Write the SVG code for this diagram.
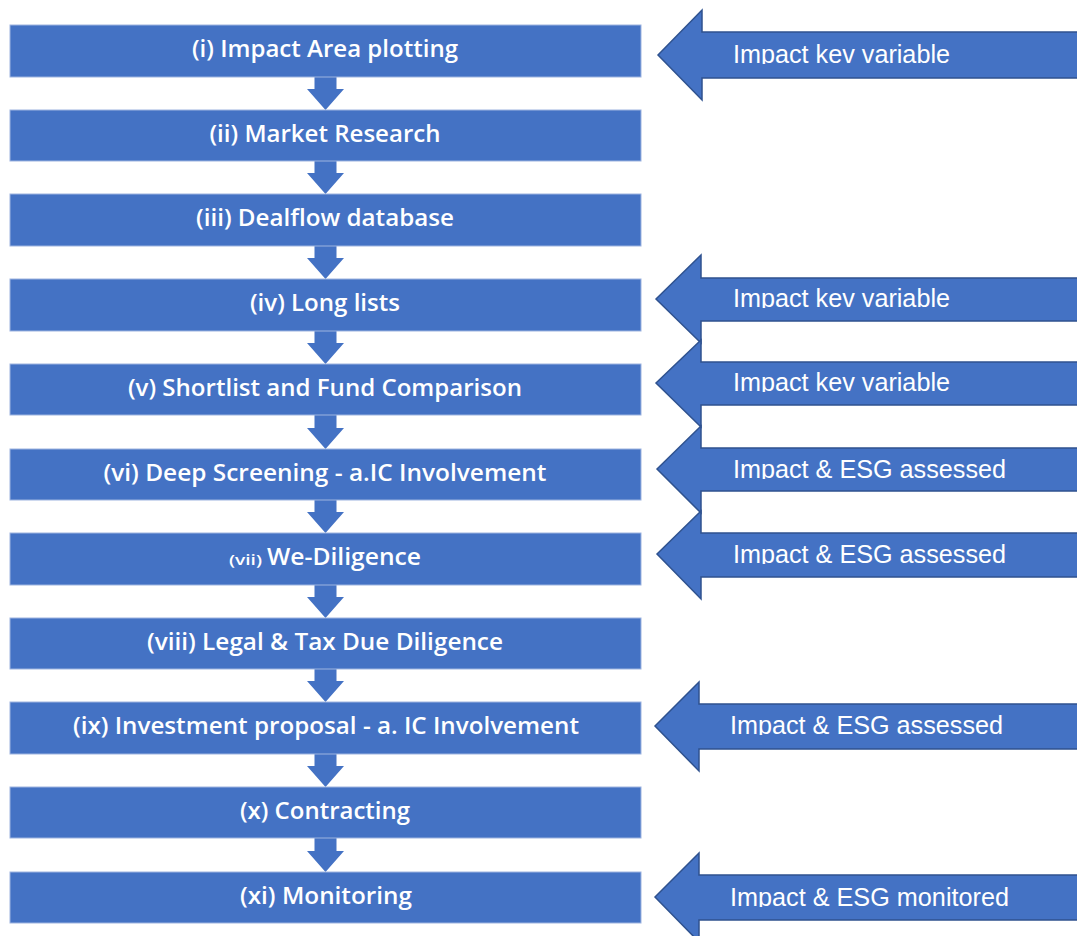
<svg xmlns="http://www.w3.org/2000/svg" width="1077" height="936" viewBox="0 0 1077 936">
<style>
.box{fill:#4472C4;stroke:#9DB4E0;stroke-width:1}
.bt{font-family:"Open Sans","Noto Sans",sans-serif;font-size:23px;font-weight:600;fill:#FFFFFF;text-anchor:middle}
.bts{font-family:"Open Sans","Noto Sans",sans-serif;font-size:15px;font-weight:600;fill:#FFFFFF}
.bl{font-family:"Open Sans","Noto Sans",sans-serif;font-size:23px;font-weight:600;fill:#FFFFFF}
.conn{fill:#4472C4}
.big{fill:#4472C4;stroke:#2F528F;stroke-width:1.5;stroke-linejoin:miter}
.at{font-family:"Liberation Sans",Arial,sans-serif;font-size:25px;fill:#FFFFFF}
</style>
<defs>
<clipPath id="c1"><rect x="700" y="30" width="400" height="34"/></clipPath>
<clipPath id="c2"><rect x="700" y="275" width="400" height="33"/></clipPath>
<clipPath id="c3"><rect x="700" y="360" width="400" height="32"/></clipPath>
<clipPath id="c4"><rect x="700" y="445" width="400" height="34"/></clipPath>
<clipPath id="c5"><rect x="700" y="530" width="400" height="34"/></clipPath>
<clipPath id="c6"><rect x="700" y="700" width="400" height="35"/></clipPath>
<clipPath id="c7"><rect x="700" y="872" width="400" height="35"/></clipPath>
</defs>
<rect width="1077" height="936" fill="#FFFFFF"/>

<g id="connectors">
<path class="conn" d="M314.5 77 H336.5 V89 H344 L325.5 110 L307 89 H314.5 Z"/>
<path class="conn" d="M314.5 161 H336.5 V173 H344 L325.5 194 L307 173 H314.5 Z"/>
<path class="conn" d="M314.5 246 H336.5 V258 H344 L325.5 279 L307 258 H314.5 Z"/>
<path class="conn" d="M314.5 331 H336.5 V343 H344 L325.5 364 L307 343 H314.5 Z"/>
<path class="conn" d="M314.5 415 H336.5 V428 H344 L325.5 449 L307 428 H314.5 Z"/>
<path class="conn" d="M314.5 500 H336.5 V512 H344 L325.5 533 L307 512 H314.5 Z"/>
<path class="conn" d="M314.5 585 H336.5 V597 H344 L325.5 618 L307 597 H314.5 Z"/>
<path class="conn" d="M314.5 669 H336.5 V681 H344 L325.5 702 L307 681 H314.5 Z"/>
<path class="conn" d="M314.5 754 H336.5 V766 H344 L325.5 787 L307 766 H314.5 Z"/>
<path class="conn" d="M314.5 838 H336.5 V851 H344 L325.5 872 L307 851 H314.5 Z"/>
</g>

<g id="n1"><rect class="box" x="10" y="25" width="631" height="52"/><text class="bt" x="325" y="57" textLength="266" lengthAdjust="spacingAndGlyphs">(i) Impact Area plotting</text></g>
<g id="n2"><rect class="box" x="10" y="110" width="631" height="51"/><text class="bt" x="325" y="142" textLength="231" lengthAdjust="spacingAndGlyphs">(ii) Market Research</text></g>
<g id="n3"><rect class="box" x="10" y="194" width="631" height="52"/><text class="bt" x="325" y="226" textLength="258" lengthAdjust="spacingAndGlyphs">(iii) Dealflow database</text></g>
<g id="n4"><rect class="box" x="10" y="279" width="631" height="52"/><text class="bt" x="325" y="311" textLength="150" lengthAdjust="spacingAndGlyphs">(iv) Long lists</text></g>
<g id="n5"><rect class="box" x="10" y="364" width="631" height="51"/><text class="bt" x="325" y="396" textLength="394" lengthAdjust="spacingAndGlyphs">(v) Shortlist and Fund Comparison</text></g>
<g id="n6"><rect class="box" x="10" y="449" width="631" height="51"/><text class="bt" x="325" y="481" textLength="443" lengthAdjust="spacingAndGlyphs">(vi) Deep Screening - a.IC Involvement</text></g>
<g id="n7"><rect class="box" x="10" y="533" width="631" height="52"/><text class="bts" x="229" y="565" textLength="33" lengthAdjust="spacingAndGlyphs">(vii)</text><text class="bl" x="267" y="565" textLength="154" lengthAdjust="spacingAndGlyphs">We-Diligence</text></g>
<g id="n8"><rect class="box" x="10" y="618" width="631" height="51"/><text class="bt" x="325" y="650" textLength="356" lengthAdjust="spacingAndGlyphs">(viii) Legal &amp; Tax Due Diligence</text></g>
<g id="n9"><rect class="box" x="10" y="702" width="631" height="52"/><text class="bt" x="326" y="734" textLength="506" lengthAdjust="spacingAndGlyphs">(ix) Investment proposal - a. IC Involvement</text></g>
<g id="n10"><rect class="box" x="10" y="787" width="631" height="51"/><text class="bt" x="325" y="819" textLength="170" lengthAdjust="spacingAndGlyphs">(x) Contracting</text></g>
<g id="n11"><rect class="box" x="10" y="872" width="631" height="51"/><text class="bt" x="326" y="904" textLength="172" lengthAdjust="spacingAndGlyphs">(xi) Monitoring</text></g>

<g id="a1"><path class="big" d="M658 55 L702 10 V32 H1080 V78 H702 V100 Z"/><text class="at" x="733" y="63" clip-path="url(#c1)" textLength="217" lengthAdjust="spacingAndGlyphs">Impact kev variable</text></g>
<g id="a2"><path class="big" d="M656 299 L701 255 V278 H1080 V321 H701 V343 Z"/><text class="at" x="733" y="307" clip-path="url(#c2)" textLength="217" lengthAdjust="spacingAndGlyphs">Impact kev variable</text></g>
<g id="a3"><path class="big" d="M656 383 L701 340 V362 H1080 V405 H701 V427 Z"/><text class="at" x="733" y="391" clip-path="url(#c3)" textLength="217" lengthAdjust="spacingAndGlyphs">Impact kev variable</text></g>
<g id="a4"><path class="big" d="M657 469 L701 426 V448 H1080 V491 H701 V513 Z"/><text class="at" x="733" y="478" clip-path="url(#c4)" textLength="273" lengthAdjust="spacingAndGlyphs">Impact &amp; ESG assessed</text></g>
<g id="a5"><path class="big" d="M657 554 L701 511 V533 H1080 V577 H701 V599 Z"/><text class="at" x="733" y="563" clip-path="url(#c5)" textLength="273" lengthAdjust="spacingAndGlyphs">Impact &amp; ESG assessed</text></g>
<g id="a6"><path class="big" d="M655 726 L699 682 V704 H1080 V749 H699 V771 Z"/><text class="at" x="730" y="734" clip-path="url(#c6)" textLength="273" lengthAdjust="spacingAndGlyphs">Impact &amp; ESG assessed</text></g>
<g id="a7"><path class="big" d="M655 897 L699 853 V875 H1080 V920 H699 V942 Z"/><text class="at" x="730" y="906" clip-path="url(#c7)" textLength="279" lengthAdjust="spacingAndGlyphs">Impact &amp; ESG monitored</text></g>
</svg>
